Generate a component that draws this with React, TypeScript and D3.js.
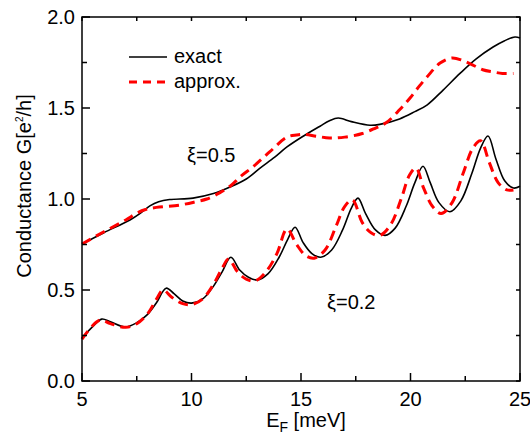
import React from "react";
import * as d3 from "d3";

const upperExactE = [5.0, 6.0, 7.19, 7.7, 8.1, 8.5, 9.0, 10.07, 11.0, 11.76, 12.5, 13.13, 13.8, 14.36, 15.1, 15.87, 16.3, 16.7, 17.3, 18.15, 18.6, 19.5, 20.2, 20.75, 21.5, 22.26, 23.0, 23.77, 24.3, 24.77, 25.0];
const upperExactG = [0.753, 0.815, 0.885, 0.925, 0.962, 0.985, 0.997, 1.005, 1.03, 1.066, 1.11, 1.17, 1.23, 1.286, 1.345, 1.40, 1.43, 1.445, 1.425, 1.405, 1.41, 1.44, 1.48, 1.516, 1.60, 1.69, 1.77, 1.835, 1.87, 1.89, 1.885];

const upperApproxE = [5.0, 6.0, 7.0, 7.5, 7.9, 8.4, 9.47, 10.2, 10.7, 11.3, 11.76, 12.3, 12.8, 13.58, 14.36, 14.8, 15.1, 15.7, 16.3, 17.0, 17.8, 18.4, 18.9, 19.5, 19.98, 20.4, 20.75, 21.35, 21.9, 22.4, 22.85, 23.3, 23.77, 24.2, 24.7];
const upperApproxG = [0.753, 0.82, 0.885, 0.922, 0.942, 0.954, 0.967, 0.985, 1.0, 1.035, 1.07, 1.13, 1.176, 1.26, 1.34, 1.352, 1.355, 1.345, 1.335, 1.34, 1.36, 1.39, 1.42, 1.49, 1.555, 1.62, 1.67, 1.747, 1.775, 1.76, 1.736, 1.71, 1.698, 1.69, 1.69];

const lowerExactE = [5.0, 5.5, 5.9, 6.3, 6.96, 7.5, 7.97, 8.4, 8.84, 9.2, 9.6, 10.0, 10.5, 11.0, 11.4, 11.8, 12.2, 12.6, 13.0, 13.5, 14.0, 14.4, 14.73, 15.1, 15.5, 15.9, 16.4, 16.9, 17.3, 17.6, 17.95, 18.4, 18.84, 19.3, 19.8, 20.2, 20.57, 20.9, 21.3, 21.8, 22.3, 22.8, 23.2, 23.54, 23.9, 24.3, 24.7, 25.0];
const lowerExactG = [0.236, 0.30, 0.34, 0.325, 0.297, 0.32, 0.363, 0.43, 0.51, 0.48, 0.44, 0.428, 0.45, 0.52, 0.60, 0.68, 0.61, 0.57, 0.555, 0.59, 0.68, 0.78, 0.845, 0.76, 0.70, 0.68, 0.72, 0.83, 0.95, 1.005, 0.92, 0.83, 0.80, 0.84, 0.96, 1.09, 1.18, 1.09, 0.98, 0.93, 0.99, 1.14, 1.28, 1.346, 1.22, 1.10, 1.06, 1.07];

const lowerApproxE = [5.0, 5.45, 5.85, 6.3, 7.0, 7.5, 8.0, 8.4, 8.7, 9.1, 9.6, 10.0, 10.5, 11.0, 11.4, 11.7, 12.1, 12.5, 12.9, 13.4, 13.9, 14.36, 14.8, 15.2, 15.6, 16.1, 16.6, 17.0, 17.35, 17.8, 18.2, 18.6, 19.1, 19.6, 19.95, 20.25, 20.6, 21.0, 21.4, 21.9, 22.4, 22.85, 23.2, 23.6, 24.0, 24.4, 24.7];
const lowerApproxG = [0.23, 0.30, 0.335, 0.315, 0.295, 0.315, 0.37, 0.45, 0.50, 0.46, 0.425, 0.42, 0.45, 0.53, 0.62, 0.67, 0.60, 0.56, 0.55, 0.60, 0.70, 0.835, 0.75, 0.69, 0.675, 0.72, 0.85, 0.96, 0.995, 0.87, 0.815, 0.80, 0.86, 1.01, 1.13, 1.17, 1.06, 0.96, 0.92, 0.98, 1.14, 1.28, 1.32, 1.20, 1.09, 1.05, 1.05];

const xMajor = [5, 10, 15, 20, 25];
const xMinor = [7.5, 12.5, 17.5, 22.5];
const yMajor = [0, 0.5, 1.0, 1.5, 2.0];
const yMinor = [0.25, 0.75, 1.25, 1.75];

const FONT = "Arial, 'Liberation Sans', sans-serif";
const FS = 20;

export default function App() {
  const left = 82, right = 520, top = 17, bottom = 381;
  const x = d3.scaleLinear().domain([5, 25]).range([left, right]);
  const y = d3.scaleLinear().domain([0, 2]).range([bottom, top]);
  const line = d3
    .line<[number, number]>()
    .x((d) => x(d[0]))
    .y((d) => y(d[1]))
    .curve(d3.curveCatmullRom.alpha(0.5));
  const zip = (a: number[], b: number[]) => a.map((v, i) => [v, b[i]] as [number, number]);

  return (
    <div style={{ position: "fixed", left: 0, top: 0 }}>
      <svg width={530} height={444} style={{ display: "block", background: "#fff" }}>
        <rect x={0} y={0} width={530} height={444} fill="#fff" />
        {/* curves */}
        <path d={line(zip(upperExactE, upperExactG)) || ""} fill="none" stroke="#000" strokeWidth={1.6} />
        <path d={line(zip(lowerExactE, lowerExactG)) || ""} fill="none" stroke="#000" strokeWidth={1.6} />
        <path d={line(zip(upperApproxE, upperApproxG)) || ""} fill="none" stroke="#ff0000" strokeWidth={3} strokeDasharray="10,6" />
        <path d={line(zip(lowerApproxE, lowerApproxG)) || ""} fill="none" stroke="#ff0000" strokeWidth={3} strokeDasharray="10,6" />

        {/* frame */}
        <rect x={left} y={top} width={right - left} height={bottom - top} fill="none" stroke="#000" strokeWidth={1.5} />
        {xMajor.map((v) => (
          <g key={"xM" + v}>
            <line x1={x(v)} x2={x(v)} y1={bottom} y2={bottom - 8} stroke="#000" strokeWidth={1.5} />
            <line x1={x(v)} x2={x(v)} y1={top} y2={top + 4} stroke="#000" strokeWidth={1.5} />
            <text x={x(v)} y={406} textAnchor="middle" fontFamily={FONT} fontSize={FS}>{v}</text>
          </g>
        ))}
        {xMinor.map((v) => (
          <g key={"xm" + v}>
            <line x1={x(v)} x2={x(v)} y1={bottom} y2={bottom - 5} stroke="#000" strokeWidth={1.5} />
            <line x1={x(v)} x2={x(v)} y1={top} y2={top + 4} stroke="#000" strokeWidth={1.5} />
          </g>
        ))}
        {yMajor.map((v) => (
          <g key={"yM" + v}>
            <line x1={left} x2={left + 8} y1={y(v)} y2={y(v)} stroke="#000" strokeWidth={1.5} />
            <line x1={right} x2={right - 4} y1={y(v)} y2={y(v)} stroke="#000" strokeWidth={1.5} />
            <text x={75} y={y(v)} dy="0.36em" textAnchor="end" fontFamily={FONT} fontSize={FS}>{v.toFixed(1)}</text>
          </g>
        ))}
        {yMinor.map((v) => (
          <g key={"ym" + v}>
            <line x1={left} x2={left + 5} y1={y(v)} y2={y(v)} stroke="#000" strokeWidth={1.5} />
            <line x1={right} x2={right - 4} y1={y(v)} y2={y(v)} stroke="#000" strokeWidth={1.5} />
          </g>
        ))}

        {/* axis titles */}
        <text x={306} y={427} textAnchor="middle" fontFamily={FONT} fontSize={FS}>
          E<tspan fontSize={14} dy={5}>F</tspan><tspan dy={-5}> [meV]</tspan>
        </text>
        <text transform="translate(31,186) rotate(-90)" textAnchor="middle" fontFamily={FONT} fontSize={FS}>
          Conductance G[e<tspan fontSize={10} dy={-8}>2</tspan><tspan dy={8}>/h]</tspan>
        </text>

        {/* legend */}
        <line x1={129} x2={167} y1={57} y2={57} stroke="#000" strokeWidth={1.6} />
        <text x={174} y={63} fontFamily={FONT} fontSize={FS}>exact</text>
        <line x1={129} x2={167} y1={82} y2={82} stroke="#ff0000" strokeWidth={3} strokeDasharray="8,6" />
        <text x={174} y={88} fontFamily={FONT} fontSize={FS}>approx.</text>

        {/* annotations */}
        <text x={187} y={162} fontFamily={FONT} fontSize={FS}>ξ=0.5</text>
        <text x={327} y={309} fontFamily={FONT} fontSize={FS}>ξ=0.2</text>
      </svg>
    </div>
  );
}
